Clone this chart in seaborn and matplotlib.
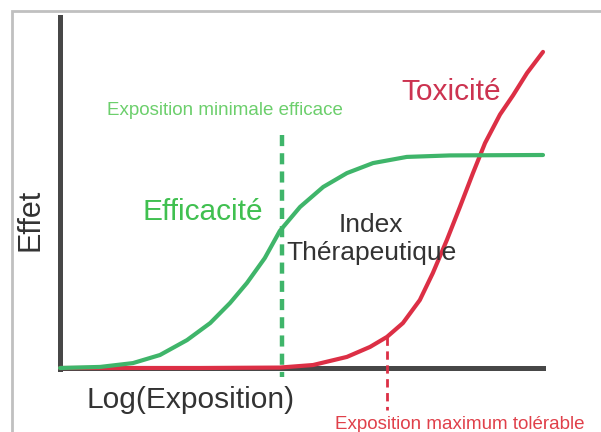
import numpy as np
import pandas as pd
import seaborn as sns
import matplotlib.pyplot as plt
from matplotlib.patches import Rectangle

# courbes (x = log exposition 0..10, y = effet en %)
eff_x = [0, 0.83, 1.51, 2.07, 2.63, 3.11, 3.52, 3.87, 4.24, 4.55, 4.97, 5.45, 5.94, 6.48, 7.18, 8.07, 10]
eff_y = [0, 0.5, 2.3, 6.1, 13.1, 21.1, 30.5, 39.9, 51.6, 64.3, 75.6, 85.0, 91.5, 96.2, 99.1, 99.8, 100]
tox_x = [0, 2.9, 4.55, 5.24, 5.94, 6.42, 6.77, 7.10, 7.45, 7.72, 8.01, 8.28, 8.55, 8.80, 9.11, 9.38, 9.67, 10]
tox_y = [0, 0, 0.2, 1.4, 5.2, 9.9, 14.6, 21.1, 31.9, 44.6, 60.1, 75.6, 91.5, 105.6, 119, 128, 138.5, 148.4]
mec_x = 4.6      # exposition minimale efficace
mte_x = 6.77     # exposition maximum tolerable

green = "#3fb56a"
red = "#dc2f45"
axis_col = "#474747"

sns.set_theme(style="white")
plt.rcParams['font.family'] = ['Liberation Sans', 'DejaVu Sans']

fig = plt.figure(figsize=(6.01, 4.32), dpi=100)
ax = fig.add_axes([0, 0, 1, 1])

df_eff = pd.DataFrame({'x': eff_x, 'y': eff_y})
df_tox = pd.DataFrame({'x': tox_x, 'y': tox_y})
sns.lineplot(data=df_tox, x='x', y='y', ax=ax, color=red, lw=3, sort=False, zorder=3)
sns.lineplot(data=df_eff, x='x', y='y', ax=ax, color=green, lw=3, sort=False, zorder=4)

# lignes pointillees
ax.plot([mec_x, mec_x], [109.4, -4.2], color=green, lw=3.2, ls=(0, (2.5, 1.6)), zorder=2)
mte_y = np.interp(mte_x, tox_x, tox_y)
ax.plot([mte_x, mte_x], [mte_y, -19.7], color=red, lw=2, ls=(0, (3, 2)), zorder=2)

ax.set_xlim(-1.242, 11.201)
ax.set_ylim(-30.05, 172.77)

for s in ['top', 'right']:
    ax.spines[s].set_visible(False)
ax.spines['left'].set_position(('data', 0))
ax.spines['bottom'].set_position(('data', 0))
ax.spines['left'].set_bounds(-0.5, 164.8)
ax.spines['bottom'].set_bounds(0, 10)
for s in ['left', 'bottom']:
    ax.spines[s].set_color(axis_col)
    ax.spines[s].set_linewidth(3.6)
    ax.spines[s].set_zorder(1)
ax.set_xticks([])
ax.set_yticks([])
ax.set_xlabel('')
ax.set_ylabel('')
ax.patch.set_alpha(0)

# textes
ax.text(0.97, 120.7, 'Exposition minimale efficace', color='#6ccf6c', fontsize=13.5,
        ha='left', va='center')
ax.text(2.96, 73.2, 'Efficacité', color='#40c050', fontsize=21.5, ha='center', va='center')
ax.text(8.10, 129.5, 'Toxicité', color='#cc3350', fontsize=21.5, ha='center', va='center')
ax.text(6.44, 60.5, 'Index\nThérapeutique', color='#333333', fontsize=19, ha='center',
        va='center', multialignment='center', linespacing=1.2)
ax.text(-0.62, 69.5, 'Effet', color='#333333', fontsize=22, rotation=90, ha='center', va='center')
ax.text(2.71, -15, 'Log(Exposition)', color='#333333', fontsize=21.5, ha='center', va='center')
ax.text(5.69, -26.3, 'Exposition maximum tolérable', color='#e0404a', fontsize=13.5,
        ha='left', va='center')

# cadre gris de la capture
fig.patches.append(Rectangle((12 / 601, -0.1), 1.2, (432 - 11) / 432 + 0.1,
                             transform=fig.transFigure, fill=False,
                             edgecolor='#c0c0c0', lw=2))

fig.savefig('out.png', dpi=100)
